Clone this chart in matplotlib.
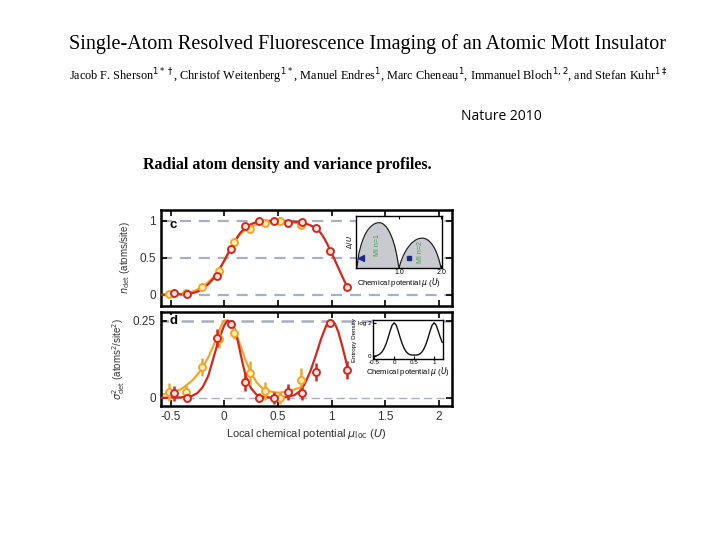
import matplotlib.pyplot as plt
import numpy as np

# panel c: detected density
c_red_x = [-0.468, -0.344, -0.07, 0.064, 0.195, 0.326, 0.459, 0.589, 0.723, 0.856, 0.985, 1.146]
c_red_y = [0.02, 0.01, 0.25, 0.62, 0.93, 0.99, 0.99, 0.97, 0.98, 0.90, 0.59, 0.10]
c_red_err = [0.01, 0.01, 0.04, 0.04, 0.03, 0.01, 0.01, 0.01, 0.01, 0.02, 0.02, 0.01]
c_yel_x = [-0.514, -0.357, -0.208, -0.053, 0.087, 0.242, 0.382, 0.52, 0.714]
c_yel_y = [0.01, 0.02, 0.11, 0.32, 0.71, 0.89, 0.97, 1.0, 0.94]
c_yel_err = [0.01, 0.01, 0.04, 0.04, 0.04, 0.04, 0.02, 0.01, 0.03]

c_fit_red_x = [-0.59, -0.5, -0.4, -0.35, -0.3, -0.25, -0.2, -0.15, -0.1, -0.05, 0.0, 0.05, 0.1, 0.15,
               0.2, 0.25, 0.3, 0.35, 0.4, 0.5, 0.6, 0.7, 0.75, 0.8, 0.85, 0.875, 0.9, 0.925, 0.95,
               1.0, 1.05, 1.1, 1.146]
c_fit_red_y = [0.0, 0.0, 0.005, 0.01, 0.02, 0.04, 0.08, 0.14, 0.22, 0.33, 0.46, 0.6, 0.73, 0.84,
               0.91, 0.955, 0.98, 0.992, 0.998, 1.0, 0.995, 0.98, 0.965, 0.94, 0.9, 0.87, 0.83, 0.775, 0.71,
               0.56, 0.4, 0.24, 0.1]
c_fit_yel_x = [-0.59, -0.5, -0.4, -0.3, -0.25, -0.2, -0.15, -0.1, -0.05, 0.0, 0.05, 0.1, 0.15, 0.2,
               0.25, 0.3, 0.4, 0.5, 0.6, 0.72]
c_fit_yel_y = [0.0, 0.003, 0.012, 0.04, 0.07, 0.11, 0.17, 0.24, 0.34, 0.46, 0.6, 0.73, 0.82, 0.88,
               0.92, 0.95, 0.975, 0.985, 0.98, 0.96]

# panel d: variance
d_red_y = [0.014, 0.0, 0.193, 0.239, 0.052, 0.0, 0.0, 0.018, 0.014, 0.084, 0.242, 0.09]
d_red_err = [0.025, 0.01, 0.03, 0.01, 0.03, 0.015, 0.02, 0.025, 0.02, 0.03, 0.01, 0.03]
d_yel_y = [0.018, 0.018, 0.10, 0.19, 0.21, 0.08, 0.022, 0.0, 0.057]
d_yel_err = [0.03, 0.025, 0.03, 0.03, 0.02, 0.04, 0.03, 0.02, 0.04]

d_fit_red_x = [-0.59, -0.4, -0.3, -0.25, -0.2, -0.15, -0.1, -0.05, 0.0, 0.03, 0.06, 0.1, 0.125, 0.15,
               0.175, 0.2, 0.25, 0.3, 0.35, 0.45, 0.55, 0.65, 0.7, 0.75, 0.8, 0.85, 0.9, 0.95, 0.98,
               1.0, 1.03, 1.06, 1.1, 1.146]
d_fit_red_y = [0.0, 0.001, 0.006, 0.015, 0.035, 0.07, 0.13, 0.19, 0.235, 0.25, 0.245, 0.22, 0.185, 0.145,
               0.105, 0.07, 0.03, 0.01, 0.003, 0.0, 0.0, 0.008, 0.02, 0.045, 0.085, 0.135, 0.19, 0.235, 0.25,
               0.25, 0.24, 0.215, 0.165, 0.1]
d_fit_yel_x = [-0.59, -0.5, -0.4, -0.3, -0.25, -0.2, -0.15, -0.1, -0.05, -0.02, 0.0, 0.03, 0.06, 0.1,
               0.15, 0.2, 0.25, 0.3, 0.35, 0.4, 0.5, 0.6, 0.72]
d_fit_yel_y = [0.01, 0.015, 0.028, 0.055, 0.075, 0.1, 0.13, 0.17, 0.215, 0.24, 0.25, 0.25, 0.24, 0.215,
               0.17, 0.12, 0.08, 0.05, 0.032, 0.022, 0.016, 0.02, 0.035]

# inset c: Mott lobes
lobe1_x = [0.0, 0.05, 0.1, 0.15, 0.2, 0.25, 0.3, 0.35, 0.4, 0.45, 0.5, 0.55, 0.6, 0.65, 0.7, 0.75,
           0.8, 0.85, 0.9, 0.95, 1.0]
lobe1_y = [0.0, 0.28, 0.44, 0.56, 0.65, 0.72, 0.77, 0.81, 0.84, 0.86, 0.87, 0.87, 0.86, 0.83, 0.79, 0.73,
           0.65, 0.55, 0.42, 0.24, 0.0]
lobe2_x = [1.0, 1.05, 1.1, 1.15, 1.2, 1.25, 1.3, 1.35, 1.4, 1.45, 1.5, 1.55, 1.6, 1.65, 1.7, 1.75,
           1.8, 1.85, 1.9, 1.95, 2.0]
lobe2_y = [0.0, 0.13, 0.23, 0.31, 0.38, 0.43, 0.48, 0.51, 0.54, 0.56, 0.57, 0.575, 0.57, 0.555, 0.53, 0.49,
           0.44, 0.37, 0.28, 0.16, 0.0]

# inset d: entropy density
ent_x = [-0.55, -0.5, -0.45, -0.4, -0.35, -0.3, -0.25, -0.2, -0.15, -0.1, -0.05, 0.0, 0.05, 0.1, 0.15,
         0.2, 0.25, 0.3, 0.35, 0.4, 0.45, 0.5, 0.55, 0.6, 0.65, 0.7, 0.75, 0.8, 0.85, 0.9, 0.95, 1.0,
         1.05, 1.1, 1.15, 1.2]
ent_y = [0.0, 0.01, 0.02, 0.04, 0.08, 0.14, 0.24, 0.38, 0.56, 0.76, 0.93, 1.0, 0.93, 0.76, 0.56,
         0.38, 0.24, 0.14, 0.08, 0.05, 0.04, 0.04, 0.04, 0.05, 0.08, 0.14, 0.24, 0.38, 0.56, 0.76, 0.93, 1.0,
         0.93, 0.76, 0.58, 0.42]

red = '#d2281e'
red_face = '#fbe6df'
yel = '#f2a52a'
yel_face = '#fff0b0'
dash = '#a9afbc'
sans = 'Liberation Sans'

fig = plt.figure(figsize=(7.2, 5.4), dpi=100)

fig.text(0.511, 0.918, 'Single-Atom Resolved Fluorescence Imaging of an Atomic Mott Insulator',
         ha='center', va='center', family='Liberation Serif', fontsize=14.5)
fig.text(0.511, 0.859, r'Jacob F. Sherson$^{1*\dagger}$, Christof Weitenberg$^{1*}$, Manuel Endres$^{1}$, '
         r'Marc Cheneau$^{1}$, Immanuel Bloch$^{1,2}$, and Stefan Kuhr$^{1\ddagger}$',
         ha='center', va='center', family='Liberation Serif', fontsize=8.8)
fig.text(0.697, 0.784, 'Nature 2010', ha='center', va='center', family='Open Sans', fontsize=10)
fig.text(0.198, 0.694, 'Radial atom density and variance profiles.', ha='left', va='center',
         family='Liberation Serif', fontweight='bold', fontsize=11.5)


def style_panel(ax):
    for s in ax.spines.values():
        s.set_linewidth(1.8)
    ax.tick_params(direction='in', top=True, right=True, length=4, width=1.2,
                   labelsize=8.5, labelcolor='#333333')
    ax.set_xlim(-0.592, 2.117)
    ax.set_xticks([-0.5, 0, 0.5, 1, 1.5, 2])


axc = fig.add_axes([0.2232, 0.4333, 0.4042, 0.1778])
style_panel(axc)
axc.set_ylim(-0.153, 1.145)
for yv in [0, 0.5, 1]:
    axc.axhline(yv, color=dash, lw=1.6, ls=(0, (5, 3.5)), zorder=1)
axc.plot(c_fit_yel_x, c_fit_yel_y, color=yel, lw=1.6, zorder=2)
axc.plot(c_fit_red_x, c_fit_red_y, color=red, lw=1.6, zorder=3)
axc.errorbar(c_yel_x, c_yel_y, yerr=c_yel_err, fmt='o', ms=5, mfc=yel_face, mec=yel, mew=1.4,
             ecolor=yel, elinewidth=1.8, capsize=0, zorder=4)
axc.errorbar(c_red_x, c_red_y, yerr=c_red_err, fmt='o', ms=5, mfc=red_face, mec=red, mew=1.4,
             ecolor=red, elinewidth=1.8, capsize=0, zorder=5)
axc.set_yticks([0, 0.5, 1])
axc.set_yticklabels(['0', '0.5', '1'], family=sans)
axc.tick_params(labelbottom=False)
axc.set_ylabel(r'$n_{\rm det}$ (atoms/site)', family=sans, fontsize=7, color='#333333')
axc.yaxis.set_label_coords(-0.10, 0.5)
axc.text(0.03, 0.84, 'c', transform=axc.transAxes, fontsize=9.5, fontweight='bold', family=sans,
         va='center')

axd = fig.add_axes([0.2232, 0.2481, 0.4042, 0.1741])
style_panel(axd)
axd.set_ylim(-0.027, 0.278)
axd.axhline(0, color=dash, lw=1.0, ls=(0, (6, 3)), zorder=1)
axd.axhline(0.25, color=dash, lw=1.8, ls=(0, (5, 3)), zorder=1)
axd.plot(d_fit_yel_x, d_fit_yel_y, color=yel, lw=1.6, zorder=2)
axd.plot(d_fit_red_x, d_fit_red_y, color=red, lw=1.6, zorder=3)
axd.errorbar(c_yel_x, d_yel_y, yerr=d_yel_err, fmt='o', ms=5, mfc=yel_face, mec=yel, mew=1.4,
             ecolor=yel, elinewidth=1.8, capsize=0, zorder=4)
axd.errorbar(c_red_x, d_red_y, yerr=d_red_err, fmt='o', ms=5, mfc=red_face, mec=red, mew=1.4,
             ecolor=red, elinewidth=1.8, capsize=0, zorder=5)
axd.set_yticks([0, 0.25])
axd.set_yticklabels(['0', '0.25'], family=sans)
axd.set_xticklabels(['-0.5', '0', '0.5', '1', '1.5', '2'], family=sans)
axd.set_xlabel(r'Local chemical potential $\mu_{\rm loc}$ ($U$)', family=sans, fontsize=8, color='#333333',
               labelpad=3)
axd.set_ylabel(r'$\sigma^2_{\rm det}$ (atoms$^2$/site$^2$)', family=sans, fontsize=7, color='#333333')
axd.yaxis.set_label_coords(-0.115, 0.5)
axd.text(0.03, 0.9, 'd', transform=axd.transAxes, fontsize=9.5, fontweight='bold', family=sans,
         va='center', zorder=6, bbox=dict(facecolor='white', edgecolor='none', pad=0.5))

# inset c
axi = fig.add_axes([0.4944, 0.5037, 0.1194, 0.0963])
axi.fill_between(lobe1_x, lobe1_y, color='#c9cacf', lw=0)
axi.fill_between(lobe2_x, lobe2_y, color='#c9cacf', lw=0)
axi.plot(lobe1_x, lobe1_y, color='#222222', lw=0.9)
axi.plot(lobe2_x, lobe2_y, color='#222222', lw=0.9)
axi.plot([0.11], [0.19], marker='<', color='#1a2a8a', ms=4)
axi.plot([1.24], [0.19], marker='s', color='#1a2a8a', ms=3.5)
axi.text(0.5, 0.45, 'MI n=1', rotation=90, color='#3aa04a', fontsize=5, ha='center', va='center', family=sans)
axi.text(1.5, 0.3, 'MI n=2', rotation=90, color='#3aa04a', fontsize=5, ha='center', va='center', family=sans)
axi.set_xlim(-0.02, 2.02)
axi.set_ylim(0, 1)
axi.set_xticks([1, 2])
axi.set_xticklabels(['1.0', '2.0'], family=sans)
axi.set_yticks([])
axi.tick_params(direction='in', length=2, labelsize=5, pad=1, top=True)
axi.set_xlabel(r'Chemical potential $\mu$ ($U$)', family=sans, fontsize=5.5, labelpad=0)
axi.set_ylabel(r'$\Delta/U$', family=sans, fontsize=5, labelpad=1)
for s in axi.spines.values():
    s.set_linewidth(1.0)

# inset d
axe = fig.add_axes([0.518, 0.335, 0.0972, 0.0722])
axe.plot(ent_x, ent_y, color='#111111', lw=1.0)
axe.set_xlim(-0.53, 1.22)
axe.set_ylim(-0.08, 1.08)
axe.set_xticks([-0.5, 0, 0.5, 1])
axe.set_xticklabels(['-0.5', '0', '0.5', '1'], family=sans)
axe.set_yticks([0, 1])
axe.set_yticklabels(['0', 'log 2'], family=sans)
axe.tick_params(direction='in', length=2, labelsize=4.5, pad=1)
axe.set_xlabel(r'Chemical potential $\mu$ ($U$)', family=sans, fontsize=5.5, labelpad=0)
axe.set_ylabel('Entropy Density', family=sans, fontsize=4.5, labelpad=1)
for s in axe.spines.values():
    s.set_linewidth(1.0)

fig.savefig('out.png', dpi=100)
